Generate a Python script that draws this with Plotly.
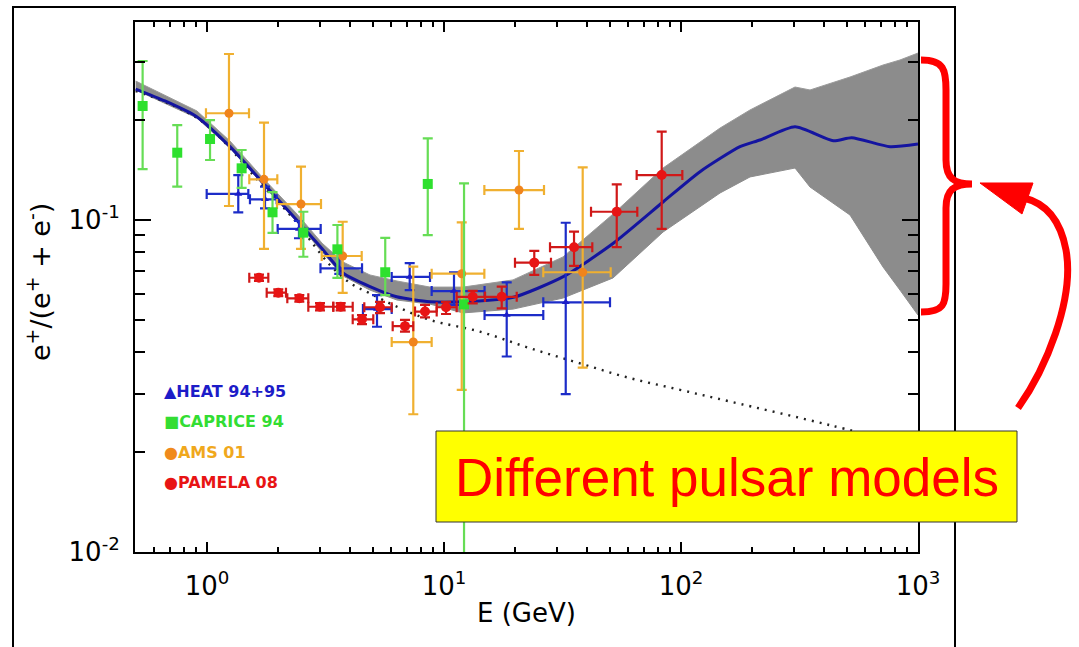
import plotly.graph_objects as go

# ---------------- measurements: positron fraction e+/(e+ + e-) ----------------
# HEAT 94+95
heat_E = [1.355, 1.757, 2.444, 3.615, 5.216, 7.166, 11.02, 18.39, 32.63]
heat_E_lo = [0.997, 1.518, 1.987, 3.012, 4.55, 6.016, 8.87, 14.83, 26.24]
heat_E_hi = [1.494, 1.968, 3.018, 4.51, 6.016, 8.73, 14.83, 26.24, 50.17]
heat_f = [0.1198, 0.1154, 0.0940, 0.0715, 0.0539, 0.0674, 0.0611, 0.0517, 0.0565]
heat_f_hi = [0.1366, 0.1260, 0.0993, 0.0796, 0.0594, 0.0741, 0.0695, 0.0649, 0.0981]
heat_f_lo = [0.1055, 0.1084, 0.0881, 0.0688, 0.0477, 0.0615, 0.0555, 0.0388, 0.0299]

# CAPRICE 94
caprice_E = [0.535, 0.749, 1.03, 1.40, 1.89, 2.55, 3.55, 5.65, 8.54, 12.15]
caprice_f = [0.2205, 0.1595, 0.1754, 0.1431, 0.1055, 0.0916, 0.0816, 0.0696, 0.1284, 0.0557]
caprice_f_hi = [0.3012, 0.1932, 0.2000, 0.1625, 0.1214, 0.1059, 0.0966, 0.0883, 0.1762, 0.1290]
caprice_f_lo = [0.1424, 0.1260, 0.1516, 0.1249, 0.0914, 0.0775, 0.0669, 0.0594, 0.0901, 0.0]

# AMS 01
ams_E = [1.238, 1.740, 2.492, 3.737, 7.42, 11.88, 20.72, 38.48]
ams_E_lo = [0.990, 1.508, 1.974, 3.048, 6.016, 8.87, 14.8, 26.24]
ams_E_hi = [1.504, 1.980, 3.027, 4.495, 8.87, 14.8, 26.42, 50.5]
ams_f = [0.2097, 0.1326, 0.1117, 0.0779, 0.0429, 0.0689, 0.1231, 0.0696]
ams_f_hi = [0.3162, 0.1964, 0.1449, 0.0988, 0.0724, 0.0984, 0.1614, 0.1441]
ams_f_lo = [0.1102, 0.0818, 0.0818, 0.0603, 0.0260, 0.0308, 0.0940, 0.0359]

# PAMELA 08
pamela_E = [1.657, 1.999, 2.452, 2.998, 3.665, 4.508, 5.37, 6.845, 8.315, 10.2,
            13.22, 17.52, 24.04, 35.37, 53.56, 82.9]
pamela_E_lo = [1.508, 1.786, 2.182, 2.676, 3.411, 4.119, 4.61, 6.074, 7.546, 9.315,
               11.31, 14.89, 19.93, 28.01, 41.72, 65.0]
pamela_E_hi = [1.814, 2.154, 2.676, 3.411, 4.119, 5.031, 6.016, 7.42, 9.315, 11.31,
               14.89, 20.27, 28.28, 42.24, 65.4, 101.3]
pamela_f = [0.0670, 0.0604, 0.0581, 0.0548, 0.0548, 0.0502, 0.0546, 0.0479, 0.0530, 0.0546,
            0.0587, 0.0587, 0.0744, 0.0828, 0.1059, 0.1366]
pamela_f_hi = [0.0685, 0.0618, 0.0594, 0.0562, 0.0562, 0.0517, 0.0567, 0.0500, 0.0555, 0.0567,
               0.0612, 0.0630, 0.0807, 0.0922, 0.1281, 0.1845]
pamela_f_lo = [0.0655, 0.0590, 0.0568, 0.0534, 0.0534, 0.0486, 0.0524, 0.0461, 0.0509, 0.0521,
               0.0561, 0.0542, 0.0683, 0.0727, 0.0828, 0.0940]

# ---------------- models ----------------
# spread of the pulsar models (envelope of the grey bundle)
band_E = [0.5, 0.907, 1.25, 1.723, 2.398, 3.057, 3.749, 4.873, 6.335, 8.73, 12.03, 19.55,
          31.77, 51.66, 84.0, 146.1, 195.5, 302.7, 350.3, 516.6, 711.8, 839.5, 1000]
band_hi = [0.2622, 0.2130, 0.1730, 0.1338, 0.1042, 0.0852, 0.0747, 0.0683, 0.0655, 0.0628,
           0.0628, 0.0660, 0.0774, 0.1042, 0.1434, 0.1892, 0.2145, 0.2515, 0.2464, 0.2696,
           0.2929, 0.3034, 0.3184]
band_lo = [0.2464, 0.2029, 0.1648, 0.1275, 0.0986, 0.0801, 0.0678, 0.0615, 0.0574, 0.0558,
           0.0525, 0.0539, 0.0582, 0.0669, 0.0920, 0.1206, 0.1348, 0.1434, 0.1257, 0.1035,
           0.0722, 0.0615, 0.0517]

# mean pulsar model
model_E = [0.5, 0.665, 0.905, 1.25, 1.728, 2.39, 3.048, 3.759, 4.873, 6.316, 8.73, 12.06,
           19.61, 31.87, 51.8, 84.2, 120.3, 177.4, 215.4, 302.7, 439.2, 525.2, 762, 1000]
model_f = [0.248, 0.2283, 0.2047, 0.1663, 0.129, 0.100, 0.0822, 0.0691, 0.0630, 0.0587,
           0.0567, 0.0567, 0.0585, 0.0675, 0.0851, 0.1135, 0.1398, 0.1663, 0.1742, 0.191,
           0.1733, 0.177, 0.1663, 0.1694]

# secondary-production background
bkg_E = [0.5, 0.934, 1.723, 2.398, 2.72, 3.304, 4.013, 4.873, 6.335, 8.73, 14.19, 23.06,
         37.48, 60.92, 99.0, 160.9, 425.3, 1000]
bkg_f = [0.2446, 0.200, 0.1266, 0.098, 0.0871, 0.0732, 0.0646, 0.0601, 0.0548, 0.050,
         0.0461, 0.0411, 0.0370, 0.0334, 0.0308, 0.0284, 0.0241, 0.0206]

x_tickvals = [1, 10, 100, 1000]
x_ticktext = ["10<sup>0</sup>", "10<sup>1</sup>", "10<sup>2</sup>", "10<sup>3</sup>"]
y_tickvals = [0.01, 0.1]
y_ticktext = ["10<sup>-2</sup>", "10<sup>-1</sup>"]
x_minor = [0.6, 0.7, 0.8, 0.9] + [m * d for d in (1, 10, 100) for m in range(2, 10)]
y_minor = [m * 0.01 for m in range(2, 10)] + [0.2, 0.3]

legend_items = [
    ("▲", "HEAT 94+95", "#1c1cc8", "#1c1cc8"),
    ("■", "CAPRICE 94", "#33dd33", "#33dd33"),
    ("●", "AMS 01", "#f08a1c", "#f0a81c"),
    ("●", "PAMELA 08", "#e81414", "#e81414"),
]

# ---------------- page geometry (pixels) ----------------
FIG_W, FIG_H = 1079, 647
L, R, T, B = 135, 918, 22, 552
PW, PH = R - L, B - T


def px(x):
    return (x - L) / PW


def py(y):
    return (B - y) / PH


def path(*segs, close=False):
    parts = []
    for cmd, pts in segs:
        parts.append(cmd + " " + " ".join(f"{px(x):.5f},{py(y):.5f}" for x, y in pts))
    return " ".join(parts) + (" Z" if close else "")


def err(v, lo, hi):
    return [h - c for c, h in zip(v, hi)], [c - l for c, l in zip(v, lo)]


fig = go.Figure()

# grey bundle of pulsar models
fig.add_trace(go.Scatter(x=band_E, y=band_lo, mode="lines",
                         line=dict(color="#8c8c8c", width=1), hoverinfo="skip"))
fig.add_trace(go.Scatter(x=band_E, y=band_hi, mode="lines", fill="tonexty",
                         fillcolor="#8c8c8c", line=dict(color="#9a9a9a", width=1),
                         hoverinfo="skip"))

# background (dotted)
fig.add_trace(go.Scatter(x=bkg_E, y=bkg_f, mode="lines", line_shape="spline",
                         line=dict(color="#222222", width=2.4, dash="2px,6px")))

# mean model (blue)
fig.add_trace(go.Scatter(x=model_E, y=model_f, mode="lines", line_shape="spline",
                         line=dict(color="#1414a0", width=3, smoothing=0.6)))


def data_trace(E, f, f_lo, f_hi, color, bar_color, symbol, size, E_lo=None, E_hi=None):
    yp, ym = err(f, f_lo, f_hi)
    kw = {}
    if E_lo is not None:
        xp, xm = err(E, E_lo, E_hi)
        kw["error_x"] = dict(type="data", symmetric=False, array=xp, arrayminus=xm,
                             color=bar_color, thickness=2.2, width=5)
    return go.Scatter(
        x=E, y=f, mode="markers",
        marker=dict(symbol=symbol, size=size, color=color, line=dict(width=0)),
        error_y=dict(type="data", symmetric=False, array=yp, arrayminus=ym,
                     color=bar_color, thickness=2.2, width=5),
        **kw,
    )


fig.add_trace(data_trace(heat_E, heat_f, heat_f_lo, heat_f_hi, "#1c1cc8", "#1c2cc8",
                         "triangle-up", 7, heat_E_lo, heat_E_hi))
fig.add_trace(data_trace(ams_E, ams_f, ams_f_lo, ams_f_hi, "#f0841c", "#f0b030",
                         "circle", 9, ams_E_lo, ams_E_hi))
fig.add_trace(data_trace(caprice_E, caprice_f, caprice_f_lo, caprice_f_hi, "#2ee02e",
                         "#66dd55", "square", 10))
fig.add_trace(data_trace(pamela_E, pamela_f, pamela_f_lo, pamela_f_hi, "#e81414", "#d01818",
                         "circle", 10, pamela_E_lo, pamela_E_hi))

axis_common = dict(
    showline=True, linecolor="black", linewidth=2, mirror="ticks",
    ticks="inside", tickcolor="black", tickwidth=2,
    showgrid=False, zeroline=False,
    tickfont=dict(family="DejaVu Sans", size=26, color="black"),
)

fig.update_xaxes(type="log", range=[-0.3038, 3.0], tickmode="array",
                 tickvals=x_tickvals, ticktext=x_ticktext, ticklen=10,
                 ticklabelstandoff=10,
                 minor=dict(ticks="inside", ticklen=5, tickwidth=1.5, tickcolor="black",
                            tickmode="array", tickvals=x_minor),
                 **axis_common)
fig.update_yaxes(type="log", range=[-2.0, -0.4036], tickmode="array",
                 tickvals=y_tickvals, ticktext=y_ticktext, ticklen=16,
                 ticklabelstandoff=8,
                 minor=dict(ticks="inside", ticklen=10, tickwidth=1.5, tickcolor="black",
                            tickmode="array", tickvals=y_minor),
                 **axis_common)

annotations = [
    dict(text="e<sup>+</sup>/(e<sup>+</sup> + e<sup>-</sup>)", textangle=-90,
         x=px(38), y=py(282), xanchor="center", yanchor="middle",
         font=dict(family="DejaVu Sans", size=27, color="black")),
    dict(text="E (GeV)", x=px(526), y=py(613), xanchor="center", yanchor="middle",
         font=dict(family="DejaVu Sans", size=26, color="black")),
    dict(text="Different pulsar models", x=px(727), y=py(477),
         xanchor="center", yanchor="middle",
         font=dict(family="Liberation Sans", size=53, color="#ff0000")),
]
for i, (sym, label, sym_color, txt_color) in enumerate(legend_items):
    annotations.append(dict(
        text=f'<span style="color:{sym_color}">{sym}</span>'
             f'<span style="color:{txt_color}">{label}</span>',
        x=px(162), y=py(391 + 30.5 * i), xanchor="left", yanchor="middle",
        font=dict(family="DejaVu Sans", size=16, color=txt_color, weight="bold"),
    ))
for a in annotations:
    a.update(xref="paper", yref="paper", showarrow=False)

red = "#ff0000"
shapes = [
    # outer frame of the panel
    dict(type="rect", x0=px(13), x1=px(955), y0=py(665), y1=py(7),
         line=dict(color="black", width=2)),
    # yellow label box
    dict(type="rect", x0=px(436), x1=px(1017), y0=py(522), y1=py(431),
         fillcolor="#ffff00", line=dict(color="#333333", width=1)),
    # curly brace spanning the model spread
    dict(type="path", line=dict(color=red, width=7),
         path=path(("M", [(921, 60)]),
                   ("C", [(944, 60), (946, 70), (946, 90)]),
                   ("L", [(946, 160)]),
                   ("C", [(946, 178), (954, 184), (972, 184)]),
                   ("C", [(954, 184), (946, 190), (946, 208)]),
                   ("L", [(946, 284)]),
                   ("C", [(946, 304), (944, 312), (921, 312)]))),
    # curved arrow shaft
    dict(type="path", line=dict(color=red, width=7),
         path=path(("M", [(1018, 408)]),
                   ("C", [(1045, 370), (1075, 300), (1066, 250)]),
                   ("C", [(1060, 218), (1045, 203), (1024, 198)]))),
    # arrow head
    dict(type="path", fillcolor=red, line=dict(color=red, width=1),
         path=path(("M", [(980, 183)]), ("L", [(1033, 183)]), ("L", [(1022, 214)]),
                   close=True)),
]
for s in shapes:
    s.update(xref="paper", yref="paper", layer="above")

fig.update_layout(
    width=FIG_W, height=FIG_H,
    margin=dict(l=L, r=FIG_W - R, t=T, b=FIG_H - B),
    paper_bgcolor="white", plot_bgcolor="white",
    showlegend=False,
    annotations=annotations,
    shapes=shapes,
)

fig.write_html("out.html")
